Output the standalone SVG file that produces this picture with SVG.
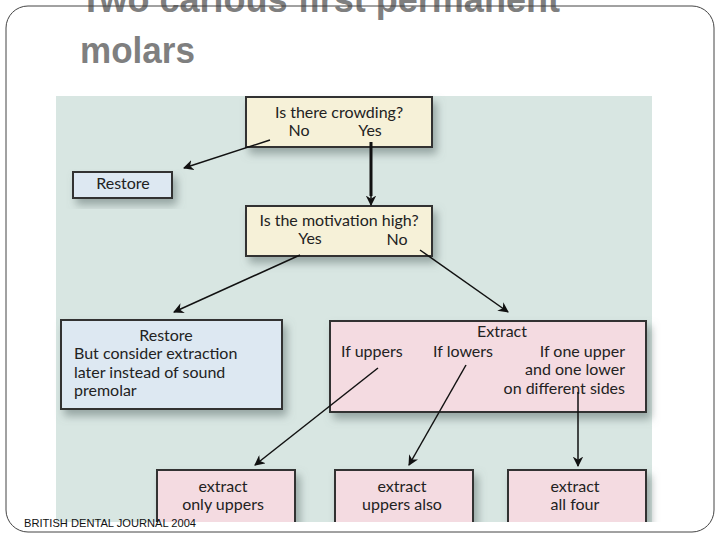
<svg xmlns="http://www.w3.org/2000/svg" width="720" height="540" viewBox="0 0 720 540">
<defs>
<marker id="ah" viewBox="0 0 10 10" refX="9" refY="5" markerWidth="7" markerHeight="7" orient="auto"><path d="M0,0 L10,5 L0,10 L3,5 z" fill="#111"/></marker>
<filter id="sh" x="-10%" y="-10%" width="130%" height="150%"><feDropShadow dx="4" dy="6" stdDeviation="4" flood-color="#6a7a78" flood-opacity="0.6"/></filter>
</defs>
<style>
.t{font-family:Lato,"Open Sans",sans-serif;font-size:16px;fill:#222}
.box{stroke:#333;stroke-width:2;filter:url(#sh)}
.y{fill:#f6f1d8}.b{fill:#dde8f2}.p{fill:#f4dbe1}
.c{stroke:#111;stroke-width:1.5;fill:none;marker-end:url(#ah)}
.h{font-family:"Liberation Sans",Arial,sans-serif;font-size:36px;font-weight:bold;fill:#7f7f7f}
</style>
<rect x="0" y="0" width="720" height="540" fill="#fff"/>
<text class="h" x="80" y="12" textLength="480" lengthAdjust="spacingAndGlyphs">Two carious first permanent</text>
<text class="h" x="80" y="63" textLength="115" lengthAdjust="spacingAndGlyphs">molars</text>
<rect x="56" y="96" width="596" height="426" fill="#d8e6e2"/>
<g id="crowd"><rect class="box y" x="246" y="97" width="186" height="50"/><text class="t" x="339" y="118" text-anchor="middle">Is there crowding?</text><text class="t" x="299" y="136" text-anchor="middle">No</text><text class="t" x="370" y="136" text-anchor="middle">Yes</text></g>
<g id="restore1"><rect class="box b" x="73" y="172" width="99" height="26"/><text class="t" x="123" y="189" text-anchor="middle">Restore</text></g>
<g id="motiv"><rect class="box y" x="246" y="206" width="186" height="50"/><text class="t" x="339" y="226" text-anchor="middle">Is the motivation high?</text><text class="t" x="310" y="244" text-anchor="middle">Yes</text><text class="t" x="397" y="245" text-anchor="middle">No</text></g>
<g id="restore2"><rect class="box b" x="61" y="320" width="221" height="89"/><text class="t" x="166" y="341" text-anchor="middle">Restore</text><text class="t" x="74" y="359">But consider extraction</text><text class="t" x="74" y="378">later instead of sound</text><text class="t" x="74" y="396">premolar</text></g>
<g id="extract"><rect class="box p" x="330" y="321" width="316" height="91"/><text class="t" x="502" y="337" text-anchor="middle">Extract</text><text class="t" x="341" y="357">If uppers</text><text class="t" x="433" y="357">If lowers</text><text class="t" x="625" y="357" text-anchor="end">If one upper</text><text class="t" x="625" y="375" text-anchor="end">and one lower</text><text class="t" x="625" y="394" text-anchor="end">on different sides</text></g>
<g id="e1"><rect class="box p" x="157" y="470" width="138" height="60"/><text class="t" x="223" y="492" text-anchor="middle">extract</text><text class="t" x="223" y="510" text-anchor="middle">only uppers</text></g>
<g id="e2"><rect class="box p" x="335" y="470" width="138" height="60"/><text class="t" x="402" y="492" text-anchor="middle">extract</text><text class="t" x="402" y="510" text-anchor="middle">uppers also</text></g>
<g id="e3"><rect class="box p" x="508" y="470" width="138" height="60"/><text class="t" x="575" y="492" text-anchor="middle">extract</text><text class="t" x="575" y="510" text-anchor="middle">all four</text></g>
<rect x="0" y="522" width="720" height="18" fill="#fff"/>
<rect x="6" y="6" width="708" height="526" rx="22" fill="none" stroke="#444" stroke-width="1"/>
<g id="connectors">
<line class="c" x1="270" y1="140" x2="184" y2="168"/>
<line x1="371" y1="142" x2="371" y2="196" stroke="#111" stroke-width="3"/>
<line class="c" x1="371" y1="190" x2="371" y2="205"/>
<line class="c" x1="300" y1="255" x2="174" y2="312"/>
<line class="c" x1="420" y1="250" x2="508" y2="312"/>
<line class="c" x1="378" y1="368" x2="255" y2="465"/>
<line class="c" x1="466" y1="365" x2="409" y2="465"/>
<line class="c" x1="578" y1="392" x2="578" y2="466"/>
</g>
<text x="24" y="527" font-family="Liberation Sans,Arial,sans-serif" font-size="11" fill="#111" textLength="172" lengthAdjust="spacingAndGlyphs">BRITISH DENTAL JOURNAL 2004</text>
</svg>
